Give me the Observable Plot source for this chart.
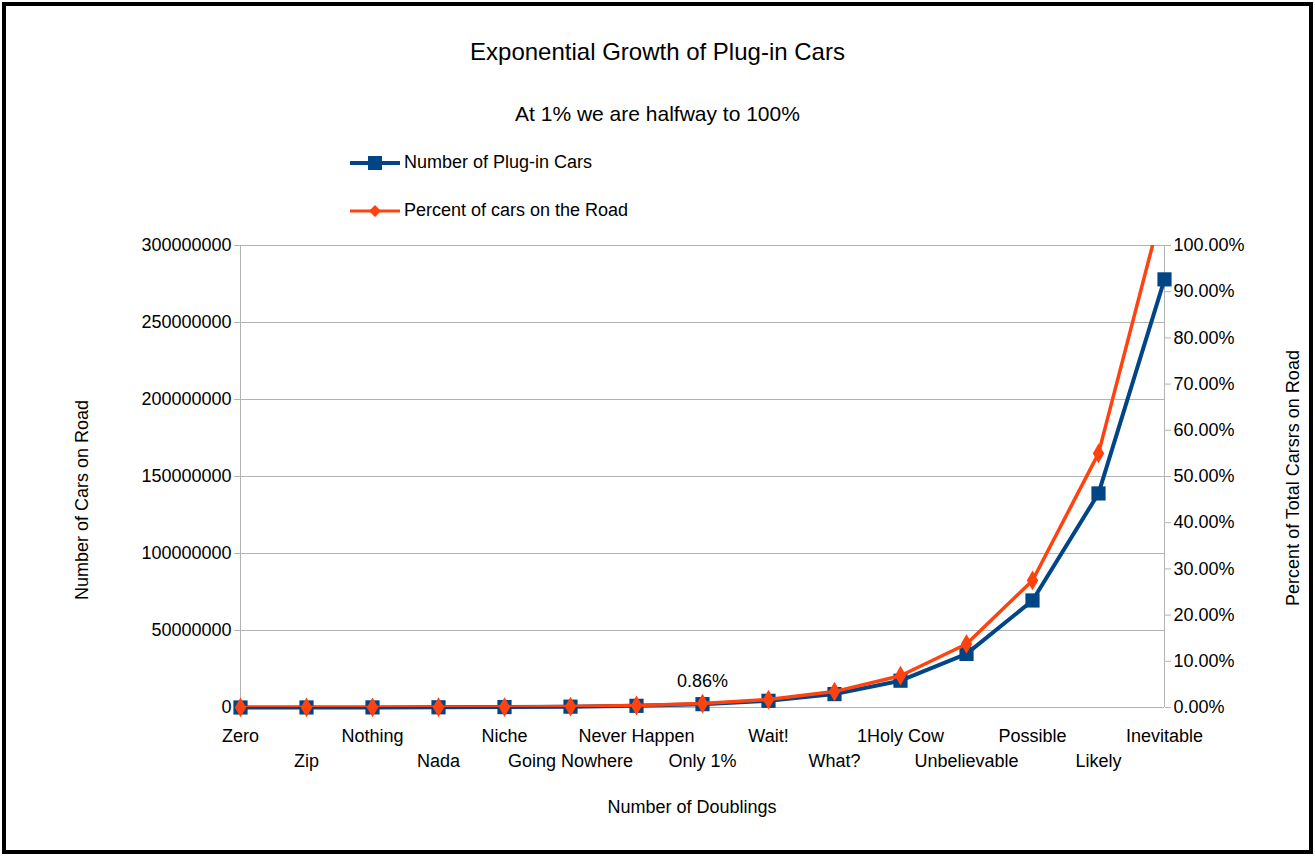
<!DOCTYPE html>
<html><head><meta charset="utf-8">
<script src="https://cdn.jsdelivr.net/npm/d3@7"></script>
<script src="https://cdn.jsdelivr.net/npm/@observablehq/plot@0.6"></script>
<style>
body{margin:0;background:#fff;font-family:"Liberation Sans",Arial,sans-serif;}
#wrap{position:relative;width:1315px;height:856px;}
#frame{position:absolute;left:2px;top:2px;width:1303px;height:844px;border:4px solid #000;}
.t{position:absolute;color:#000;white-space:nowrap;}
</style></head><body>
<div id="wrap">
<div id="frame"></div>
<div id="chart" style="position:absolute;left:0;top:0"></div>
<div class="t" style="left:0;width:1315px;text-align:center;top:38px;font-size:24px">Exponential Growth of Plug-in Cars</div>
<div class="t" style="left:0;width:1315px;text-align:center;top:102px;font-size:21px">At 1% we are halfway to 100%</div>
<div class="t" style="left:404px;top:152px;font-size:18px">Number of Plug-in Cars</div>
<div class="t" style="left:404px;top:200px;font-size:18px">Percent of cars on the Road</div>
<svg class="t" style="left:348px;top:150px" width="56" height="70">
<line x1="2" x2="52" y1="13" y2="13" stroke="#004586" stroke-width="4"/><rect x="20" y="6" width="14" height="14" fill="#004586"/>
<line x1="2" x2="52" y1="61" y2="61" stroke="#ff420e" stroke-width="3"/><path d="M27 55 L33 61 L27 67 L21 61Z" fill="#ff420e"/>
</svg>
</div>
<script>
const categories=["Zero","Zip","Nothing","Nada","Niche","Going Nowhere","Never Happen","Only 1%","Wait!","What?","1Holy Cow","Unbelievable","Possible","Likely","Inevitable"];
const cars=[17000,34000,68000,136000,272000,543000,1087000,2174000,4348000,8696000,17400000,34800000,69500000,139000000,278000000];
const percent=[0.0000625,0.000125,0.00025,0.0005,0.001,0.002,0.0043,0.0086,0.0172,0.0344,0.0688,0.1375,0.275,0.55,1.10];
const leftTicks=[0,50000000,100000000,150000000,200000000,250000000,300000000];
const rightTicks=[0,0.1,0.2,0.3,0.4,0.5,0.6,0.7,0.8,0.9,1.0];
const S=300000000;
const carsData=categories.map((c,i)=>({c,v:cars[i]}));
const pctData=categories.map((c,i)=>({c,v:percent[i]*S}));
const upper=categories.filter((c,i)=>i%2===0);
const lower=categories.filter((c,i)=>i%2===1);
const chart=Plot.plot({
 width:1315,height:856,marginTop:245,marginBottom:149,marginLeft:240,marginRight:151,
 style:{fontFamily:"Liberation Sans, Arial, sans-serif",fontSize:"18px",color:"#000",background:"transparent"},
 x:{type:"point",domain:categories,padding:0,axis:null},
 y:{domain:[0,S],axis:null},
 marks:[
  Plot.gridY(leftTicks,{stroke:"#b3b3b3",strokeOpacity:1}),
  Plot.ruleX([categories[0]],{stroke:"#b3b3b3"}),
  Plot.ruleX([categories[14]],{stroke:"#b3b3b3"}),
  Plot.axisY(leftTicks,{anchor:"left",tickSize:6,tickFormat:d=>String(d),label:null,fontSize:18,stroke:"#b3b3b3"}),
  Plot.axisY(rightTicks.map(d=>d*S),{anchor:"right",tickSize:6,tickFormat:d=>(d/S*100).toFixed(2)+"%",label:null,fontSize:18,stroke:"#b3b3b3"}),
  Plot.text(upper,{x:d=>d,y:0,dy:29,text:d=>d,fontSize:18}),
  Plot.text(lower,{x:d=>d,y:0,dy:54,text:d=>d,fontSize:18}),
  Plot.lineY(carsData,{x:"c",y:"v",stroke:"#004586",strokeWidth:4}),
  Plot.dot(carsData,{x:"c",y:"v",symbol:"square",r:8,fill:"#004586"}),
  Plot.lineY(pctData,{x:"c",y:"v",stroke:"#ff420e",strokeWidth:3.5,clip:true}),
  Plot.dot(pctData.slice(0,14),{x:"c",y:"v",symbol:"diamond",r:6,fill:"#ff420e"}),
  Plot.text([pctData[7]],{x:"c",y:"v",dy:-22,text:()=>"0.86%",fontSize:18})
 ]
});
document.getElementById("chart").appendChild(chart);
const w=document.getElementById("wrap");
function add(html,style){const d=document.createElement("div");d.className="t";d.style.cssText=style;d.textContent=html;w.appendChild(d);}
add("Number of Doublings","left:0;width:1384px;text-align:center;top:797px;font-size:18px");
add("Number of Cars on Road","left:82px;top:500px;font-size:18px;transform:translate(-50%,-50%) rotate(-90deg)");
add("Percent of Total Carsrs on Road","left:1293px;top:478px;font-size:18px;transform:translate(-50%,-50%) rotate(-90deg)");
</script>
</body></html>
